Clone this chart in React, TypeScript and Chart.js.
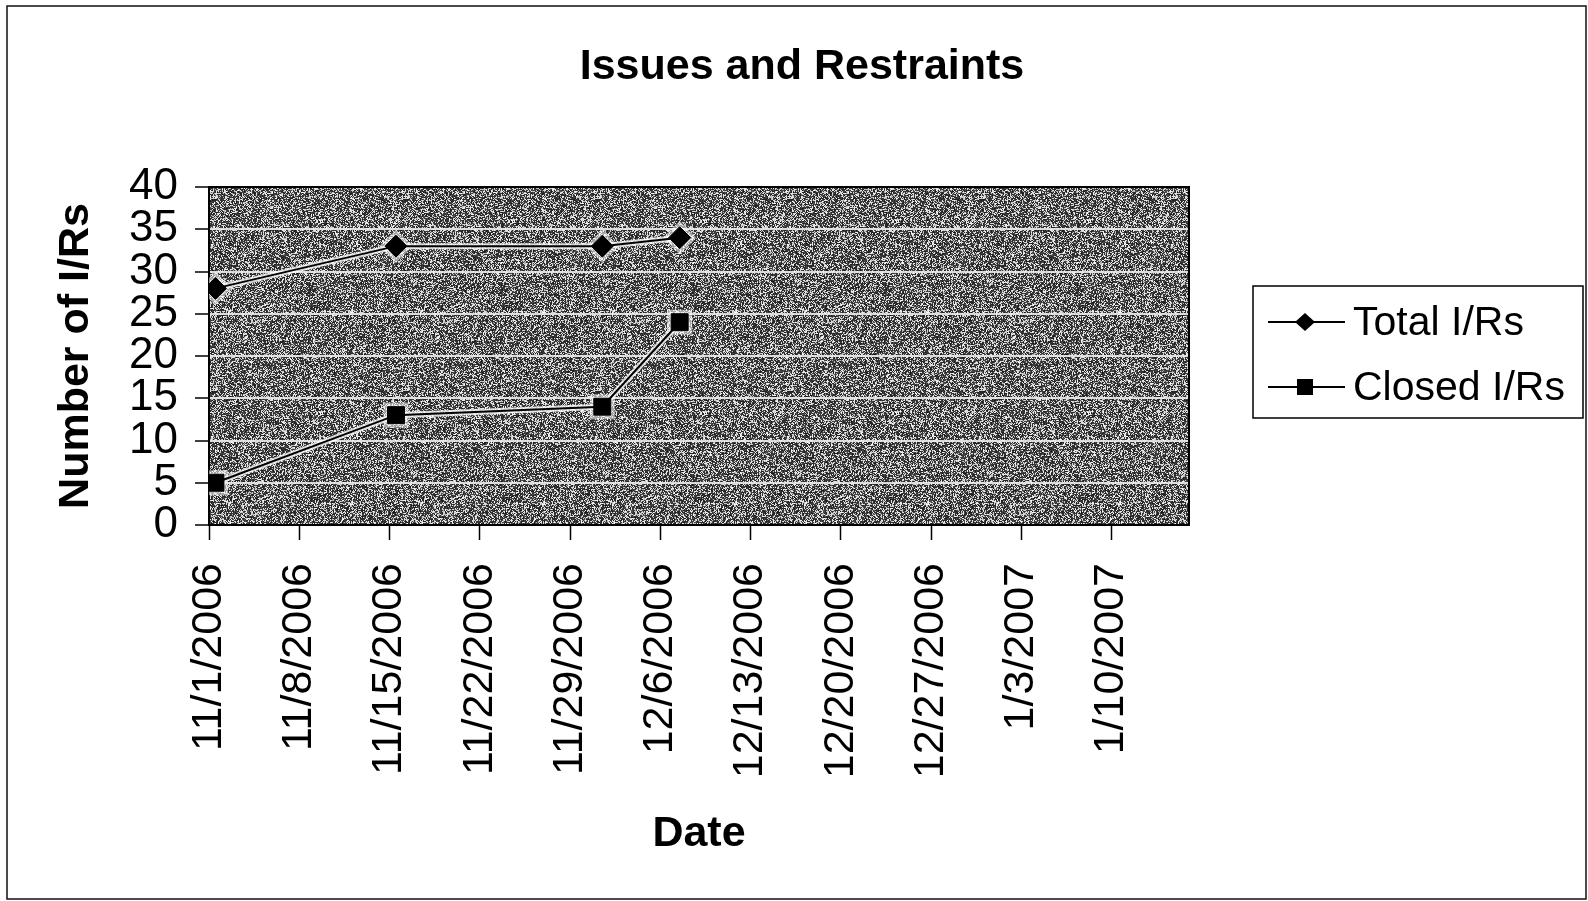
import { useEffect, useRef } from 'react';
import { Chart, registerables } from 'chart.js';

Chart.register(...registerables);

// ---- chart text ----
const chartTitle = 'Issues and Restraints';
const xAxisTitle = 'Date';
const yAxisTitle = 'Number of I/Rs';
const seriesNames = ['Total I/Rs', 'Closed I/Rs'];

// ---- date axis: weekly ticks, one-day slots ----
const axisStartDate = '11/1/2006';
const axisSpanDays = 76;
const tickStepDays = 7;
const tickLabels = [
  '11/1/2006', '11/8/2006', '11/15/2006', '11/22/2006', '11/29/2006', '12/6/2006',
  '12/13/2006', '12/20/2006', '12/27/2006', '1/3/2007', '1/10/2007',
];

// ---- value axis ----
const yMin = 0;
const yMax = 40;
const yStep = 5;

// ---- series ----
const reportDates = ['11/1/2006', '11/15/2006', '12/1/2006', '12/7/2006'];
const totalIRs = [28, 33, 33, 34];
const closedIRs = [5, 13, 14, 24];

const FONT = '"Liberation Sans", Arial, Helvetica, sans-serif';

function parseDate(s: string): number {
  const [m, d, y] = s.split('/').map(Number);
  return Date.UTC(y, m - 1, d);
}

// Day index from the first axis date; each value sits in the middle of its day slot.
function daySlot(s: string): number {
  return Math.round((parseDate(s) - parseDate(axisStartDate)) / 86400000) + 0.5;
}

function toPoints(values: number[]) {
  return reportDates.map((d, i) => ({ x: daySlot(d), y: values[i] }));
}

// Speckled grey fill used behind the plot area.
function makeSpeckle(): CanvasPattern | string {
  const size = 192;
  const c = document.createElement('canvas');
  c.width = size;
  c.height = size;
  const g = c.getContext('2d');
  if (!g) return '#707070';
  const img = g.createImageData(size, size);
  for (let y = 0; y < size; y++) {
    for (let x = 0; x < size; x++) {
      let h = Math.imul(x, 374761393) + Math.imul(y, 668265263);
      h = Math.imul(h ^ (h >>> 13), 1274126177);
      h ^= h >>> 16;
      const v = (h >>> 0) / 4294967296;
      const lum = v < 0.38 ? 175 + v * 200 : 25 + (v - 0.38) * 90;
      const k = (y * size + x) * 4;
      img.data[k] = lum;
      img.data[k + 1] = lum;
      img.data[k + 2] = lum;
      img.data[k + 3] = 255;
    }
  }
  g.putImageData(img, 0, 0);
  return g.createPattern(c, 'repeat') || '#707070';
}

const markerStyles = ['rectRot', 'rect'];
const markerRadius = [11, 12];

const decorations = {
  id: 'decorations',
  beforeDraw(chart: any) {
    const { ctx, chartArea: a, width, height } = chart;
    ctx.save();
    ctx.fillStyle = '#ffffff';
    ctx.fillRect(0, 0, width, height);
    ctx.fillStyle = chart.$speckle || '#707070';
    ctx.fillRect(a.left, a.top, a.right - a.left, a.bottom - a.top);
    ctx.restore();
  },
  beforeDatasetsDraw(chart: any) {
    const { ctx, chartArea: a } = chart;
    ctx.save();
    ctx.strokeStyle = '#000';
    ctx.lineWidth = 2;
    ctx.strokeRect(a.left, a.top, a.right - a.left, a.bottom - a.top);
    ctx.restore();
  },
  afterDraw(chart: any) {
    const { ctx, width, height } = chart;
    ctx.save();
    // outer chart frame
    ctx.strokeStyle = '#111';
    ctx.lineWidth = 1.5;
    ctx.strokeRect(7, 6, width - 9, height - 8);

    // title
    ctx.fillStyle = '#000';
    ctx.font = `bold 43px ${FONT}`;
    ctx.textAlign = 'center';
    ctx.textBaseline = 'alphabetic';
    ctx.fillText(chartTitle, 802, 79);

    // legend box
    const lx = 1253, ly = 286, lw = 330, lh = 132;
    ctx.fillStyle = '#fff';
    ctx.fillRect(lx, ly, lw, lh);
    ctx.strokeStyle = '#000';
    ctx.lineWidth = 1.5;
    ctx.strokeRect(lx, ly, lw, lh);
    ctx.font = `41px ${FONT}`;
    ctx.textAlign = 'left';
    ctx.textBaseline = 'middle';
    seriesNames.forEach((name, i) => {
      const cy = ly + 36 + i * 65;
      ctx.strokeStyle = '#000';
      ctx.lineWidth = 2;
      ctx.beginPath();
      ctx.moveTo(lx + 15, cy);
      ctx.lineTo(lx + 92, cy);
      ctx.stroke();
      const mx = lx + 52;
      ctx.fillStyle = '#000';
      ctx.beginPath();
      if (markerStyles[i] === 'rectRot') {
        ctx.moveTo(mx - 10, cy);
        ctx.lineTo(mx, cy - 9);
        ctx.lineTo(mx + 10, cy);
        ctx.lineTo(mx, cy + 9);
        ctx.closePath();
      } else {
        ctx.rect(mx - 8, cy - 8, 16, 16);
      }
      ctx.fill();
      ctx.fillText(name, lx + 100, cy + 2);
    });
    ctx.restore();
  },
};

export default function App() {
  const ref = useRef<HTMLCanvasElement | null>(null);

  useEffect(() => {
    if (!ref.current) return;
    const seriesValues = [totalIRs, closedIRs];
    const datasets: any[] = [];
    seriesValues.forEach((vals, i) => {
      // light halo under each line and marker
      datasets.push({
        label: seriesNames[i] + ' halo',
        data: toPoints(vals),
        borderColor: 'rgba(255,255,255,0.8)',
        borderWidth: 6,
        pointStyle: markerStyles[i],
        pointRadius: markerRadius[i] + 1.5,
        pointBackgroundColor: 'rgba(255,255,255,0.55)',
        pointBorderColor: 'rgba(255,255,255,0.55)',
        order: 2,
      });
      datasets.push({
        label: seriesNames[i],
        data: toPoints(vals),
        borderColor: '#000',
        borderWidth: 2,
        pointStyle: markerStyles[i],
        pointRadius: markerRadius[i],
        pointBackgroundColor: '#000',
        pointBorderColor: '#000',
        pointBorderWidth: 1,
        order: 1,
      });
    });

    const chart: any = new Chart(ref.current, {
      type: 'line',
      data: { datasets },
      options: {
        animation: false,
        responsive: false,
        devicePixelRatio: 1,
        layout: { padding: { left: 0, right: 399, top: 187, bottom: 0 } },
        plugins: {
          legend: { display: false },
          title: { display: false },
          tooltip: { enabled: false },
        },
        scales: {
          x: {
            type: 'linear',
            min: 0,
            max: axisSpanDays,
            border: { display: false },
            grid: {
              drawOnChartArea: false,
              drawTicks: true,
              tickLength: 15,
              tickColor: '#000',
              tickWidth: 1.5,
            },
            afterBuildTicks: (scale: any) => {
              scale.ticks = tickLabels.map((_, i) => ({ value: i * tickStepDays }));
            },
            afterFit: (scale: any) => {
              scale.height = 901 - 525;
            },
            ticks: {
              autoSkip: false,
              minRotation: 90,
              maxRotation: 90,
              padding: 23,
              color: '#000',
              font: { family: FONT, size: 43 },
              callback: (v: any) => tickLabels[Math.round(Number(v) / tickStepDays)] ?? '',
            },
            title: {
              display: true,
              text: xAxisTitle,
              color: '#000',
              font: { family: FONT, size: 43, weight: 'bold' },
              padding: { top: 0, bottom: 41 },
            },
          },
          y: {
            min: yMin,
            max: yMax,
            border: { display: false },
            grid: {
              color: 'rgba(235,235,235,0.9)',
              lineWidth: 2,
              tickLength: 14,
              tickColor: '#000',
              tickWidth: 1.5,
            },
            afterFit: (scale: any) => {
              scale.width = 209;
            },
            ticks: {
              stepSize: yStep,
              autoSkip: false,
              padding: 17,
              color: '#000',
              font: { family: FONT, size: 44 },
            },
            title: {
              display: true,
              text: yAxisTitle,
              color: '#000',
              font: { family: FONT, size: 43, weight: 'bold' },
              padding: { top: 50, bottom: 0 },
            },
          },
        },
      },
      plugins: [decorations],
    } as any);
    chart.$speckle = makeSpeckle();
    chart.draw();
    return () => chart.destroy();
  }, []);

  return (
    <div style={{ position: 'absolute', left: 0, top: 0, width: 1588, height: 901, background: '#fff' }}>
      <canvas ref={ref} width={1588} height={901} style={{ display: 'block' }} />
    </div>
  );
}
